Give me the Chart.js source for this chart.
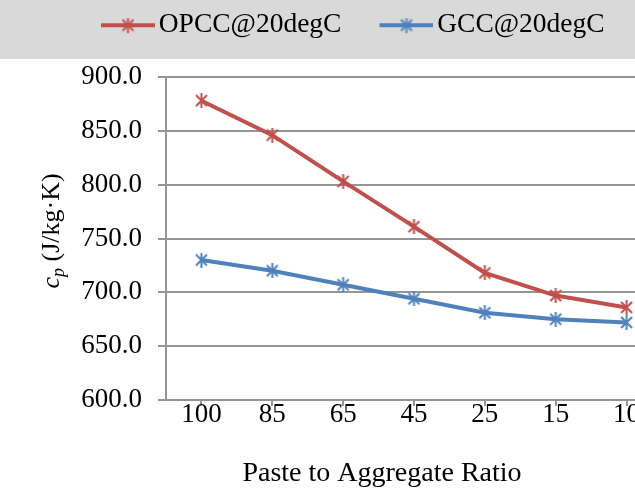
<!DOCTYPE html>
<html>
<head>
<meta charset="utf-8">
<script src="https://cdn.jsdelivr.net/npm/chart.js@4/dist/chart.umd.min.js"></script>
<style>
  html, body { margin: 0; padding: 0; overflow: hidden; background: #fff; }
  #wrap { width: 670px; height: 490px; }
</style>
</head>
<body>
<div id="wrap"><canvas id="chart" width="670" height="490"></canvas></div>
<script>
// chart data
const categories = ['100', '85', '65', '45', '25', '15', '10'];
const opccValues = [878, 846, 803, 761, 718, 697, 686];
const gccValues = [730, 720, 707, 694, 681, 675, 672];
const seriesNames = ['OPCC@20degC', 'GCC@20degC'];
const yMin = 600, yMax = 900, yStep = 50;

const RED = '#C0504D';
const BLUE = '#4F81BD';
const GRID = '#959595';
const SERIF = '"Liberation Serif", "Times New Roman", serif';

// asterisk marker (X with a vertical bar), like the Excel star marker
function makeStar(color, size) {
  const c = document.createElement('canvas');
  c.width = size; c.height = size;
  const g = c.getContext('2d');
  g.strokeStyle = color;
  g.lineWidth = 2;
  const m = size / 2;
  g.beginPath();
  g.moveTo(2, 2); g.lineTo(size - 2, size - 2);
  g.moveTo(size - 2, 2); g.lineTo(2, size - 2);
  g.moveTo(m, 0); g.lineTo(m, size);
  g.stroke();
  return c;
}

// legend swatch: line with marker; blank on the left widens the item spacing
function makeLegendSwatch(color) {
  const c = document.createElement('canvas');
  c.width = 92; c.height = 18;
  const g = c.getContext('2d');
  g.strokeStyle = color;
  g.lineWidth = 4;
  g.beginPath();
  g.moveTo(38, 9); g.lineTo(92, 9);
  g.stroke();
  g.drawImage(makeStar(color, 15), 65 - 7.5, 1.5);
  return c;
}

const swatches = [makeLegendSwatch(RED), makeLegendSwatch(BLUE)];

const background = {
  id: 'background',
  beforeDraw(chart) {
    const ctx = chart.ctx;
    ctx.save();
    ctx.fillStyle = '#ffffff';
    ctx.fillRect(0, 0, chart.width, chart.height);
    ctx.fillStyle = '#d9d9d9';
    ctx.fillRect(0, 0, chart.width, 59);
    ctx.restore();
  }
};

// push the plot area down below the legend band
const legendGap = {
  id: 'legendGap',
  beforeInit(chart) {
    const fit = chart.legend.fit;
    chart.legend.fit = function () {
      fit.call(this);
      this.height += 29.5;
    };
  },
  afterLayout(chart) {
    // legend sits left of centre in the original
    chart.legend.left = 63;
    chart.legend.top = 1.5;
  }
};

// axis titles (y title has italic c with subscript p)
const axisTitles = {
  id: 'axisTitles',
  afterDraw(chart) {
    const ctx = chart.ctx;
    ctx.save();
    ctx.fillStyle = '#000';

    ctx.font = '28px ' + SERIF;
    ctx.textAlign = 'center';
    ctx.textBaseline = 'middle';
    ctx.fillText('Paste to Aggregate Ratio', 382, 474);

    ctx.translate(51, 231);
    ctx.rotate(-Math.PI / 2);
    ctx.textAlign = 'left';
    ctx.textBaseline = 'alphabetic';
    const fC = 'italic 26px ' + SERIF;
    const fP = 'italic 18px ' + SERIF;
    const fR = '26px ' + SERIF;
    const rest = ' (J/kg\u00B7K)';
    ctx.font = fC; const wC = ctx.measureText('c').width;
    ctx.font = fP; const wP = ctx.measureText('p').width;
    ctx.font = fR; const wR = ctx.measureText(rest).width;
    let x = -(wC + wP + wR) / 2;
    const base = 8;
    ctx.font = fC; ctx.fillText('c', x, base); x += wC;
    ctx.font = fP; ctx.fillText('p', x, base + 5); x += wP;
    ctx.font = fR; ctx.fillText(rest, x, base);
    ctx.restore();
  }
};

new Chart(document.getElementById('chart'), {
  type: 'line',
  data: {
    labels: categories,
    datasets: [
      {
        label: seriesNames[0],
        data: opccValues,
        borderColor: RED,
        backgroundColor: RED,
        borderWidth: 4,
        pointStyle: makeStar(RED, 15),
        tension: 0
      },
      {
        label: seriesNames[1],
        data: gccValues,
        borderColor: BLUE,
        backgroundColor: BLUE,
        borderWidth: 4,
        pointStyle: makeStar(BLUE, 15),
        tension: 0
      }
    ]
  },
  options: {
    responsive: false,
    animation: false,
    layout: { padding: { left: 0, right: 8, top: 0, bottom: 67 } },
    plugins: {
      tooltip: { enabled: false },
      legend: {
        position: 'top',
        align: 'start',
        labels: {
          usePointStyle: true,
          pointStyleWidth: 72,
          padding: 10,
          color: '#000',
          font: { family: SERIF, size: 27.5 },
          generateLabels(chart) {
            const items = Chart.defaults.plugins.legend.labels.generateLabels(chart);
            items.forEach((it, i) => { it.pointStyle = swatches[i]; });
            return items;
          }
        }
      }
    },
    scales: {
      x: {
        offset: true,
        grid: {
          offset: false,
          drawOnChartArea: false,
          color: GRID,
          lineWidth: 2,
          tickLength: 6
        },
        border: { color: GRID, width: 2 },
        ticks: {
          color: '#000',
          padding: -5,
          font: { family: SERIF, size: 27, lineHeight: 1 }
        }
      },
      y: {
        min: yMin,
        max: yMax,
        afterFit: (scale) => { scale.width = 166; },
        grid: { color: GRID, lineWidth: 2, tickLength: 8 },
        border: { color: GRID, width: 2 },
        ticks: {
          stepSize: yStep,
          color: '#000',
          padding: 16,
          font: { family: SERIF, size: 27 },
          callback: (v) => v.toFixed(1)
        }
      }
    }
  },
  plugins: [background, legendGap, axisTitles]
});
</script>
</body>
</html>
